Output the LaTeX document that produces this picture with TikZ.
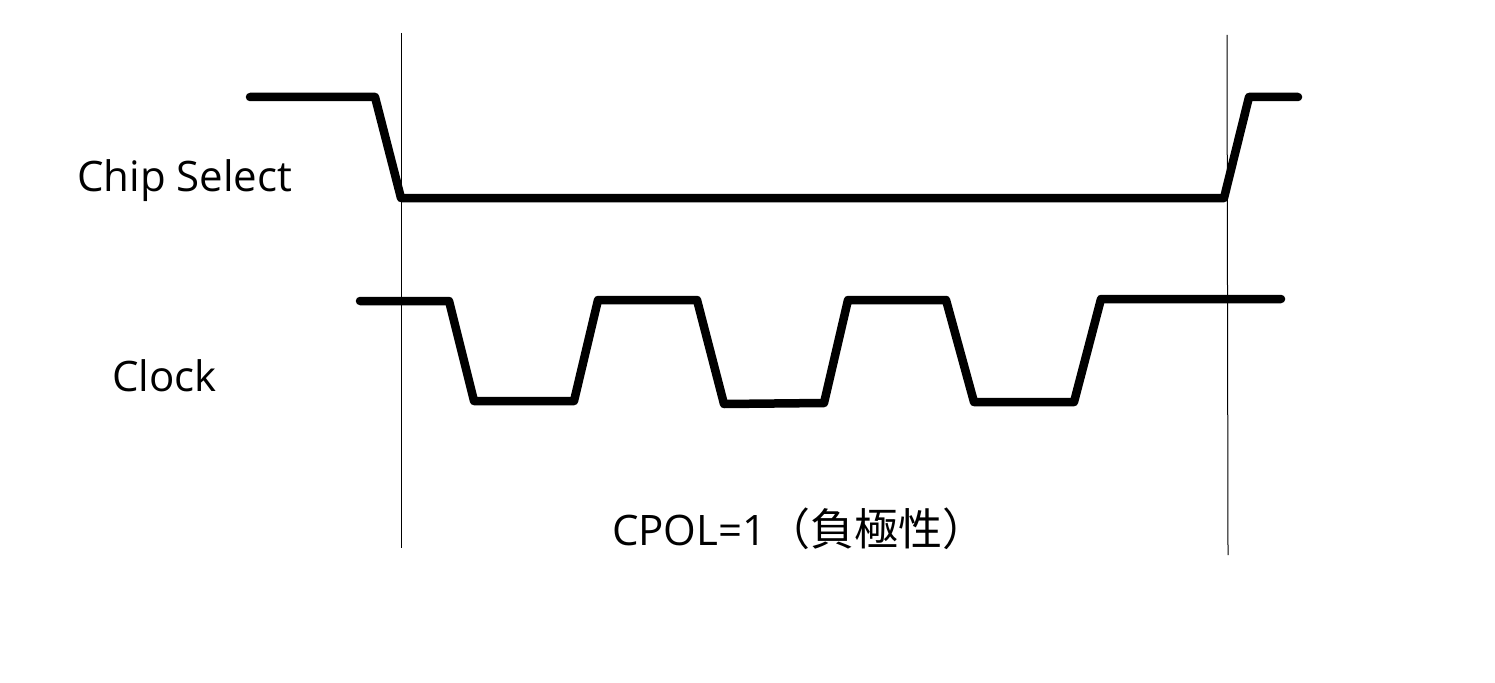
\documentclass[tikz,border=0pt]{standalone}
\usepackage{fontspec}
\setmainfont{Open Sans}
\newfontfamily\cjk{Noto Sans CJK JP}
\begin{document}
\begin{tikzpicture}[x=1pt,y=-1pt,
  signal/.style={line width=8.5pt,line join=round,line cap=round},
  guide/.style={line width=1pt},
  lbl/.style={inner sep=0pt,font=\fontsize{42}{50}\selectfont}]
\useasboundingbox[fill=white] (0,0) rectangle (1495,682);
% guide lines
\coordinate (g1t) at (401,33); \coordinate (g1b) at (401,548);
\coordinate (g2t) at (1227,35); \coordinate (g2b) at (1228,555);
\draw[guide] (g1t) -- (g1b);
\draw[guide] (g2t) -- (g2b);
% chip select
\draw[signal] (250,97) -- (375,97) -- (401,198) -- (1224,198) -- (1249,97) -- (1298,97);
% clock
\draw[signal] (360,301) -- (449,301) -- (474,401) -- (574,401) -- (598,300) -- (697,300)
  -- (724,404) -- (824,403) -- (848,300) -- (946,300) -- (974,402) -- (1074,402)
  -- (1101,299) -- (1281,299);
% labels
\node[lbl,anchor=base west] (cs) at (77,191) {Chip Select};
\node[lbl,anchor=base west] (clk) at (112,391) {Clock};
\node[lbl,anchor=base west] (cpol) at (612,545) {CPOL=1{\cjk\fontsize{44}{50}\selectfont （負極性）}};
\end{tikzpicture}
\end{document}
